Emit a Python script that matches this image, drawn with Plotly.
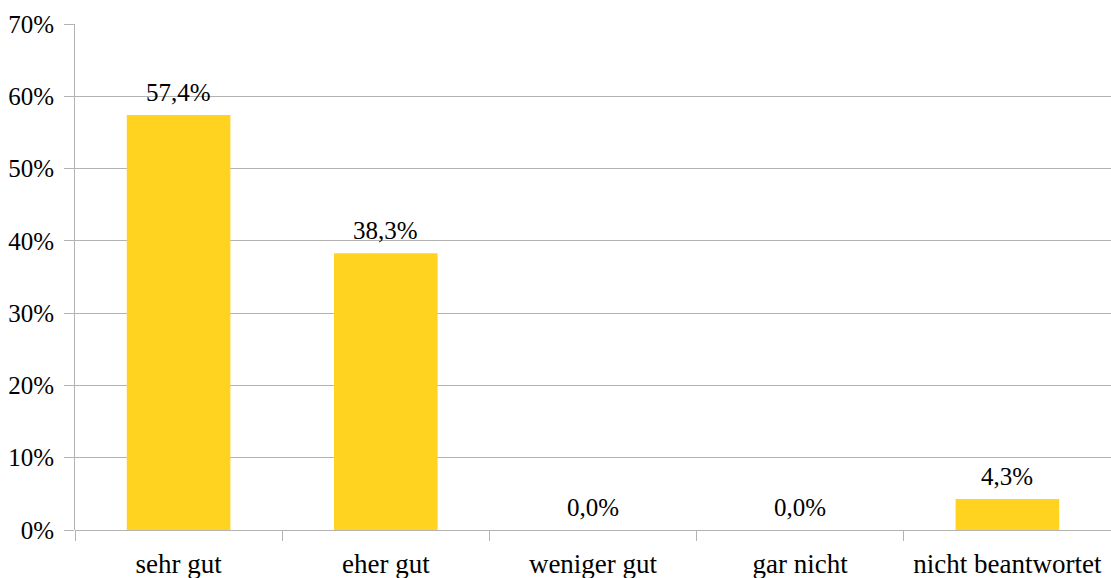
import plotly.graph_objects as go

categories = ["sehr gut", "eher gut", "weniger gut", "gar nicht", "nicht beantwortet"]
shares = [57.4, 38.3, 0.0, 0.0, 4.3]
y_ticks = [0, 10, 20, 30, 40, 50, 60, 70]

FONT = "Liberation Serif, Times New Roman, DejaVu Serif, serif"
GRID = "#b3b3b3"

fig = go.Figure(
    go.Bar(
        x=categories,
        y=shares,
        marker=dict(color="#ffd320", line=dict(width=0)),
        width=0.5,
        hoverinfo="x+y",
    )
)

# value labels above each bar
for cat, val in zip(categories, shares):
    fig.add_annotation(
        x=cat,
        y=val,
        text=f"{val:.1f}".replace(".", ",") + "%",
        showarrow=False,
        yanchor="bottom",
        yshift=7,
        font=dict(family=FONT, size=25, color="#000000"),
    )

fig.update_layout(
    width=1111,
    height=578,
    margin=dict(l=75, r=0, t=24, b=48),
    paper_bgcolor="white",
    plot_bgcolor="white",
    showlegend=False,
    font=dict(family=FONT, size=25, color="#000000"),
)

fig.update_xaxes(
    showgrid=False,
    showline=False,
    ticks="outside",
    tickson="boundaries",
    ticklen=10,
    tickcolor=GRID,
    tickwidth=1,
    ticklabelstandoff=15,
    tickfont=dict(family=FONT, size=27),
    range=[-0.5, 4.5],
)

fig.update_yaxes(
    range=[0, 70],
    tickvals=y_ticks,
    ticktext=[f"{v}%" for v in y_ticks],
    showgrid=True,
    gridcolor=GRID,
    gridwidth=1,
    showline=True,
    linecolor=GRID,
    linewidth=1,
    ticks="outside",
    ticklen=10,
    tickcolor=GRID,
    ticklabelstandoff=5,
    tickfont=dict(family=FONT, size=25),
    zeroline=True,
    zerolinecolor=GRID,
    zerolinewidth=1,
)

fig.write_html("out.html")
